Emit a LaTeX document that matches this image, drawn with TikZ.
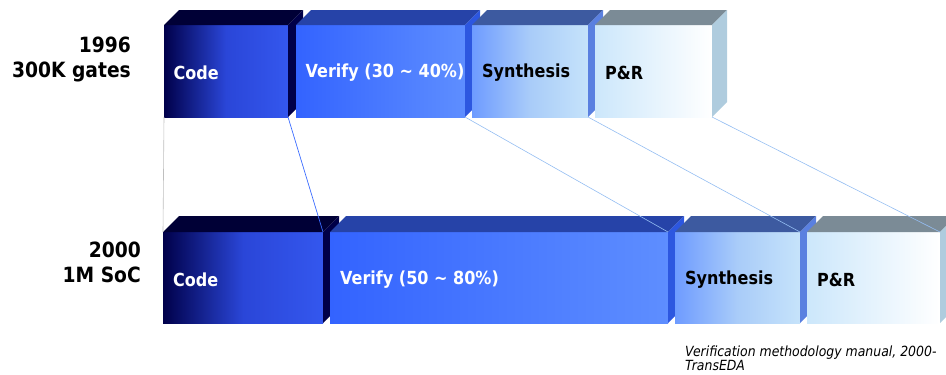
\documentclass[tikz,border=0pt]{standalone}
\usepackage{fontspec}
\setmainfont{DejaVu Sans}
\newfontfamily\narrowsans[FakeStretch=0.89]{DejaVu Sans}

% colours of the four design phases
\definecolor{codeL}{HTML}{00004A}
\definecolor{codeM}{HTML}{2A46D8}
\definecolor{codeR}{HTML}{3457EE}
\definecolor{codeTop}{HTML}{000036}
\definecolor{codeSide}{HTML}{000048}
\definecolor{verL}{HTML}{3363FF}
\definecolor{verR}{HTML}{5E8EFF}
\definecolor{verTop}{HTML}{2643A8}
\definecolor{verSide}{HTML}{2D57E0}
\definecolor{synL}{HTML}{6E9BFF}
\definecolor{synM}{HTML}{A9CCF9}
\definecolor{synR}{HTML}{C6E3FA}
\definecolor{synTop}{HTML}{3D5AA0}
\definecolor{synSide}{HTML}{5A80E0}
\definecolor{prL}{HTML}{CCE7FB}
\definecolor{prR}{HTML}{FFFFFF}
\definecolor{prTop}{HTML}{7B8B96}
\definecolor{prSide}{HTML}{AFCCDE}
\definecolor{linkBlue}{HTML}{3A6BFF}
\definecolor{linkPale}{HTML}{94BDF2}

% one 3D slab: name, x, y (top-left of front face), width, height, depth, kind
\newcommand\slab[7]{%
  \node[facebox, #7 front, minimum width=#4pt, minimum height=#5pt] (#1) at (#2,#3) {};
  \fill[#7 top] (#1.north west) -- ++(#6,-#6) -- ++(#4,0) -- (#1.north east) -- cycle;
  \fill[#7 side] (#1.north east) -- ++(#6,-#6) -- ++(0,#5) -- (#1.south east) -- cycle;
}

\begin{document}
\begin{tikzpicture}[x=1pt,y=-1pt,
  facebox/.style={inner sep=0pt, outer sep=0pt, anchor=north west, draw=none},
  code front/.style={left color=codeL, right color=codeR, middle color=codeM},
  code top/.style={fill=codeTop},
  code side/.style={fill=codeSide},
  ver front/.style={left color=verL, right color=verR},
  ver top/.style={fill=verTop},
  ver side/.style={fill=verSide},
  syn front/.style={left color=synL, right color=synR, middle color=synM},
  syn top/.style={fill=synTop},
  syn side/.style={fill=synSide},
  pr front/.style={left color=prL, right color=prR},
  pr top/.style={fill=prTop},
  pr side/.style={fill=prSide},
  phase/.style={anchor=west, inner sep=0pt, font=\narrowsans\fontsize{18}{20}\selectfont\bfseries},
  year/.style={anchor=north east, inner sep=0pt, align=right,
               font=\narrowsans\fontsize{21}{25}\selectfont\bfseries},
  link/.style={draw=linkPale, line width=0.6pt},
]
\useasboundingbox (0,0) rectangle (946,375);
\clip (0,0) rectangle (946,375);

% 1996 flow
\slab{c1}{164}{25}{124}{92}{15}{code}
\slab{v1}{296}{25}{169}{92}{15}{ver}
\slab{s1}{472}{25}{116}{92}{15}{syn}
\slab{p1}{595}{25}{117}{92}{15}{pr}

% 2000 flow
\slab{c2}{163}{232}{160}{91}{16}{code}
\slab{v2}{330}{232}{338}{91}{16}{ver}
\slab{s2}{675}{232}{125}{91}{16}{syn}
\slab{p2}{807}{232}{133}{91}{16}{pr}

% phase names
\node[phase, text=white] (c1t) at ([xshift=9.5pt,yshift=-1.5pt]c1.west) {Code};
\node[phase, text=white] (v1t) at ([xshift=9.5pt,yshift=-1.5pt]v1.west) {Verify (30 \char"007E{} 40\%)};
\node[phase, text=black] (s1t) at ([xshift=10pt,yshift=-1.5pt]s1.west) {Synthesis};
\node[phase, text=black] (p1t) at ([xshift=10pt,yshift=-1.5pt]p1.west) {P\&R};
\node[phase, text=white] (c2t) at ([xshift=10pt,yshift=-2pt]c2.west) {Code};
\node[phase, text=white] (v2t) at ([xshift=10pt,yshift=-2pt]v2.west) {Verify (50 \char"007E{} 80\%)};
\node[phase, text=black] (s2t) at ([xshift=10pt,yshift=-2pt]s2.west) {Synthesis};
\node[phase, text=black] (p2t) at ([xshift=10pt,yshift=-2pt]p2.west) {P\&R};

% how each phase grew
\draw[gray!50, line width=0.6pt] (c1.south west) -- (c2.north west);
\draw[linkBlue, line width=0.7pt] (c1.south east) -- (c2.north east);
\draw[link] (v1.south east) -- (v2.north east);
\draw[link] (s1.south east) -- (s2.north east);
\draw[link] (p1.south east) -- (p2.north east);

% design size labels
\node[year] (y1) at (131,37) {1996\\300K gates};
\node[year] (y2) at (141,242) {2000\\1M SoC};

% source
\node[anchor=north west, inner sep=0pt, align=left,
      font=\narrowsans\fontsize{14}{14}\selectfont\itshape] (src) at (685,346)
  {Verification methodology manual, 2000-\\TransEDA};
\end{tikzpicture}
\end{document}
